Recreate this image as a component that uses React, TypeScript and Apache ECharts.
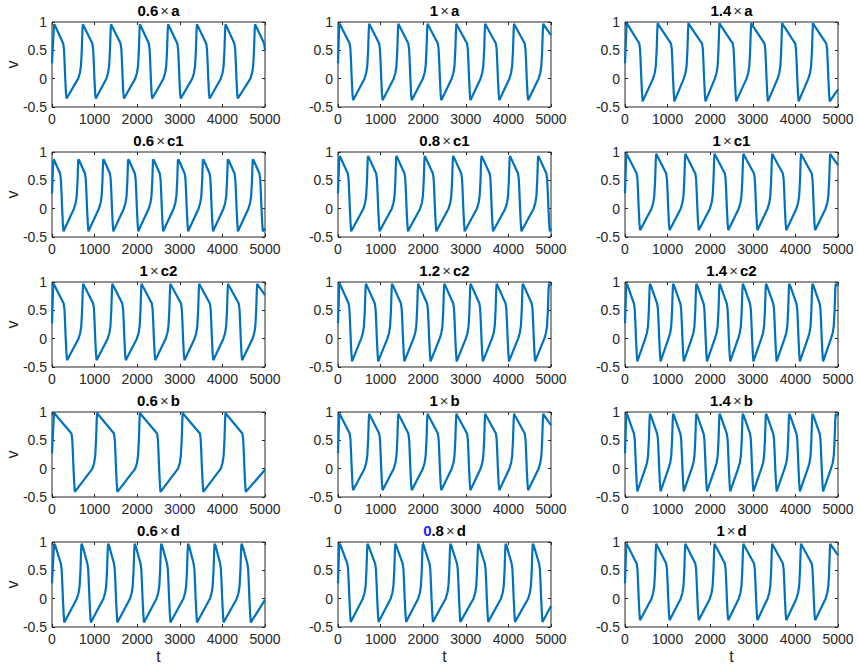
import React, { useEffect, useRef } from 'react';
import * as echarts from 'echarts';

// ---------- tick labels ----------
const X_TICKS = [0, 1000, 2000, 3000, 4000, 5000];
const Y_TICKS = [-0.5, 0, 0.5, 1];

// ---------- subplot titles (factor, parameter) ----------
const TITLE_FACTORS = ['0.6', '1', '1.4', '0.6', '0.8', '1', '1', '1.2', '1.4', '0.6', '1', '1.4', '0.6', '0.8', '1'];
const TITLE_PARAMS = ['a', 'a', 'a', 'c1', 'c1', 'c1', 'c2', 'c2', 'c2', 'b', 'b', 'b', 'd', 'd', 'd'];

// value at t = 0 (all panels)
const START_V = 0.27;

// ---------- read values: spike peak times, trough times, levels [vMax, vMin, vEnd] ----------
const peaks_06a = [55, 724, 1386, 2064, 2726, 3403, 4073, 4767];
const troughs_06a = [343, 1028, 1690, 2353, 3022, 3700, 4362, 5060];
const levels_06a = [0.96, -0.35, 0.5];

const peaks_1a = [39, 732, 1417, 2102, 2779, 3456, 4133, 4818];
const troughs_1a = [354, 1047, 1731, 2424, 3109, 3786, 4463];
const levels_1a = [0.97, -0.38, 0.77];

const peaks_14a = [47, 768, 1490, 2219, 2963, 3692, 4414];
const troughs_14a = [415, 1160, 1889, 2611, 3355, 4076, 4806];
const levels_14a = [0.98, -0.4, -0.19];

const peaks_06c1 = [40, 625, 1210, 1795, 2380, 2965, 3550, 4135, 4720];
const troughs_06c1 = [270, 855, 1440, 2025, 2610, 3195, 3780, 4365, 4950];
const levels_06c1 = [0.87, -0.4, -0.35];

const peaks_08c1 = [40, 706, 1372, 2038, 2704, 3370, 4036, 4702];
const troughs_08c1 = [310, 976, 1642, 2308, 2974, 3640, 4306, 4972];
const levels_08c1 = [0.93, -0.4, -0.35];

const peaks_1c1 = [39, 732, 1417, 2102, 2779, 3456, 4133, 4818];
const troughs_1c1 = [354, 1047, 1731, 2424, 3109, 3786, 4463];
const levels_1c1 = [0.97, -0.38, 0.77];

const peaks_1c2 = [39, 732, 1417, 2102, 2779, 3456, 4133, 4818];
const troughs_1c2 = [354, 1047, 1731, 2424, 3109, 3786, 4463];
const levels_1c2 = [0.97, -0.38, 0.77];

const peaks_12c2 = [40, 654, 1268, 1882, 2496, 3110, 3724, 4338, 4952];
const troughs_12c2 = [330, 944, 1558, 2172, 2786, 3400, 4014, 4628];
const levels_12c2 = [0.97, -0.4, 0.95];

const peaks_14c2 = [40, 585, 1130, 1675, 2220, 2765, 3310, 3855, 4400, 4945];
const troughs_14c2 = [290, 835, 1380, 1925, 2470, 3015, 3560, 4105, 4650];
const levels_14c2 = [0.97, -0.4, 0.95];

const peaks_06b = [55, 1059, 2064, 3069, 4073];
const troughs_06b = [537, 1535, 2547, 3552, 4549];
const levels_06b = [0.99, -0.41, -0.02];

const peaks_1b = [39, 732, 1417, 2102, 2779, 3456, 4133, 4818];
const troughs_1b = [354, 1047, 1731, 2424, 3109, 3786, 4463];
const levels_1b = [0.97, -0.38, 0.77];

const peaks_14b = [40, 585, 1130, 1675, 2220, 2765, 3310, 3855, 4400, 4945];
const troughs_14b = [290, 835, 1380, 1925, 2470, 3015, 3560, 4105, 4650];
const levels_14b = [0.97, -0.4, 0.95];

const peaks_06d = [55, 693, 1317, 1940, 2563, 3194, 3817, 4448];
const troughs_06d = [288, 911, 1535, 2158, 2781, 3404, 4027, 4666];
const levels_06d = [0.97, -0.42, -0.02];

const peaks_08d = [39, 693, 1346, 1991, 2637, 3290, 3935, 4573];
const troughs_08d = [299, 952, 1598, 2228, 2873, 3526, 4156, 4801];
const levels_08d = [0.97, -0.41, -0.13];

const peaks_1d = [39, 732, 1417, 2102, 2779, 3456, 4133, 4818];
const troughs_1d = [354, 1047, 1731, 2424, 3109, 3786, 4463];
const levels_1d = [0.97, -0.38, 0.77];

// waveform detail: [offset before trough (ms), v]
const FALL_SHAPE = [[-80, 0.62], [-62, 0.52], [-48, 0.3], [-32, 0.0], [-15, -0.26]];
// [offset before peak (ms), v]
const RISE_SHAPE = [[-110, 0.0], [-70, 0.1], [-45, 0.22], [-25, 0.5], [-10, 0.85]];

const PANELS = [
  [peaks_06a, troughs_06a, levels_06a],
  [peaks_1a, troughs_1a, levels_1a],
  [peaks_14a, troughs_14a, levels_14a],
  [peaks_06c1, troughs_06c1, levels_06c1],
  [peaks_08c1, troughs_08c1, levels_08c1],
  [peaks_1c1, troughs_1c1, levels_1c1],
  [peaks_1c2, troughs_1c2, levels_1c2],
  [peaks_12c2, troughs_12c2, levels_12c2],
  [peaks_14c2, troughs_14c2, levels_14c2],
  [peaks_06b, troughs_06b, levels_06b],
  [peaks_1b, troughs_1b, levels_1b],
  [peaks_14b, troughs_14b, levels_14b],
  [peaks_06d, troughs_06d, levels_06d],
  [peaks_08d, troughs_08d, levels_08d],
  [peaks_1d, troughs_1d, levels_1d],
];

function buildPoints(peaks: number[], troughs: number[], levels: number[]) {
  const [vMax, vMin, vEnd] = levels;
  const pts: number[][] = [[0, START_V]];
  for (let i = 0; i < peaks.length; i++) {
    const P = peaks[i];
    if (i > 0) {
      for (const [o, v] of RISE_SHAPE) pts.push([P + o, v]);
    } else {
      pts.push([P - 12, vMax - 0.06]);
    }
    pts.push([P, vMax]);
    pts.push([P + 20, vMax - 0.03]);
    const T = troughs[i];
    if (T !== undefined) {
      for (const [o, v] of FALL_SHAPE) pts.push([T + o, v]);
      pts.push([T, vMin]);
    }
  }
  const out = pts.filter((p) => p[0] < 5000);
  out.push([5000, vEnd]);
  return out;
}

const FONT = '"Liberation Sans", Arial, Helvetica, sans-serif';
const AX = '#262626';
const LEFTS = [52, 338, 625];
const TOPS = [22, 152, 282, 412, 542];
const W = 213;
const H = 85;

export default function App() {
  const ref = useRef<HTMLDivElement>(null);
  useEffect(() => {
    if (!ref.current) return;
    const chart = echarts.init(ref.current, undefined, { renderer: 'svg' });
    const grid: any[] = [];
    const xAxis: any[] = [];
    const yAxis: any[] = [];
    const series: any[] = [];
    const graphic: any[] = [];
    const tick = { show: true, inside: true, length: 3, lineStyle: { color: AX } };
    PANELS.forEach((pn, k) => {
      const r = Math.floor(k / 3);
      const c = k % 3;
      const left = LEFTS[c];
      const top = TOPS[r];
      grid.push({ left, top, width: W, height: H, show: true, borderColor: AX, borderWidth: 1, backgroundColor: 'transparent' });
      const isBlue = k === 9;
      xAxis.push({
        type: 'value', gridIndex: k, position: 'bottom', min: X_TICKS[0], max: X_TICKS[X_TICKS.length - 1], interval: 1000,
        axisLine: { show: false, onZero: false }, splitLine: { show: false }, axisTick: tick,
        axisLabel: {
          color: AX, fontSize: 14, fontFamily: FONT, margin: 5,
          formatter: (v: number) => (isBlue && v === 3000 ? '3{b|0}00' : String(v)),
          rich: { b: { color: '#1f1fff', fontSize: 14, fontFamily: FONT } },
        },
      });
      xAxis.push({
        type: 'value', gridIndex: k, position: 'top', min: 0, max: 5000, interval: 1000,
        axisLine: { show: false, onZero: false }, splitLine: { show: false }, axisLabel: { show: false }, axisTick: tick,
      });
      yAxis.push({
        type: 'value', gridIndex: k, position: 'left', min: Y_TICKS[0], max: Y_TICKS[Y_TICKS.length - 1], interval: 0.5,
        axisLine: { show: false, onZero: false }, splitLine: { show: false }, axisTick: tick,
        axisLabel: { color: AX, fontSize: 14, fontFamily: FONT, margin: 5 },
      });
      yAxis.push({
        type: 'value', gridIndex: k, position: 'right', min: -0.5, max: 1, interval: 0.5,
        axisLine: { show: false, onZero: false }, splitLine: { show: false }, axisLabel: { show: false }, axisTick: tick,
      });
      series.push({
        type: 'line', xAxisIndex: 2 * k, yAxisIndex: 2 * k, data: buildPoints(pn[0], pn[1], pn[2]),
        showSymbol: false, symbol: 'none', lineStyle: { color: '#0072BD', width: 2.2 }, itemStyle: { color: '#0072BD' },
      });
      const f = TITLE_FACTORS[k];
      const fText = k === 13 ? '{b|' + f[0] + '}{n|' + f.slice(1) + '}' : '{n|' + f + '}';
      graphic.push({
        type: 'text', x: left + W / 2, y: top - 12,
        style: {
          text: fText + '{x|×}{n|' + TITLE_PARAMS[k] + '}',
          align: 'center', verticalAlign: 'middle',
          rich: {
            n: { fontSize: 15, fontWeight: 'bold', fontFamily: FONT, fill: '#000' },
            b: { fontSize: 15, fontWeight: 'bold', fontFamily: FONT, fill: '#1f1fff' },
            x: { fontSize: 15, fontWeight: 'normal', fontFamily: FONT, fill: '#333', padding: [0, 2] },
          },
        },
      });
      if (c === 0) {
        graphic.push({
          type: 'text', x: 12, y: top + H / 2, rotation: Math.PI / 2,
          style: { text: 'v', fontSize: 16, fontFamily: FONT, fill: AX, align: 'center', verticalAlign: 'middle' },
        });
      }
      if (r === 4) {
        graphic.push({
          type: 'text', x: left + W / 2, y: 656,
          style: { text: 't', fontSize: 16, fontFamily: FONT, fill: AX, align: 'center', verticalAlign: 'middle' },
        });
      }
    });
    chart.setOption({ animation: false, backgroundColor: '#fff', grid, xAxis, yAxis, series, graphic });
    return () => chart.dispose();
  }, []);
  return <div ref={ref} style={{ position: 'fixed', left: 0, top: 0, width: 859, height: 665 }} />;
}
